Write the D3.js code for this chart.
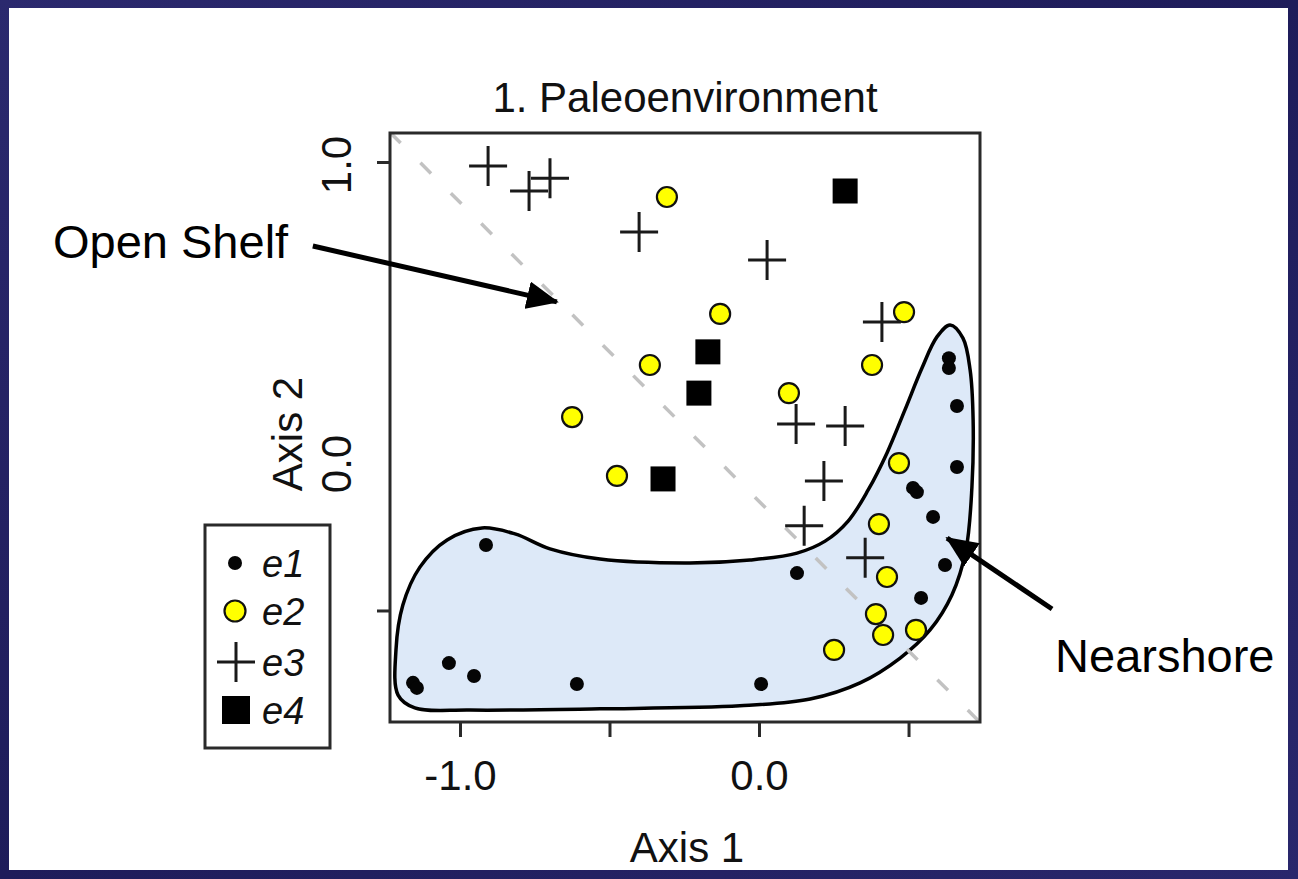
<!DOCTYPE html>
<html>
<head>
<meta charset="utf-8">
<script src="https://cdn.jsdelivr.net/npm/d3@7"></script>
<style>
  body { margin: 0; background: #1f1d5c; }
  svg { display: block; }
  text { font-family: "Liberation Sans", Arial, sans-serif; fill: #111; }
</style>
</head>
<body>
<div class="graph"></div>
<script>
// ordination scores (Axis 1, Axis 2)
let e1Points = [
  [0.635, 0.344], [0.635, 0.311], [0.662, 0.184], [0.662, -0.020],
  [0.515, -0.090], [0.528, -0.104], [0.582, -0.187], [0.622, -0.348],
  [0.542, -0.458], [0.127, -0.375], [0.007, -0.746], [-0.913, -0.281],
  [-1.037, -0.676], [-0.953, -0.719], [-1.157, -0.742], [-1.144, -0.759],
  [-0.609, -0.746]
];
let e2Points = [
  [-0.308, 0.883], [-0.130, 0.492], [0.485, 0.498], [-0.365, 0.321],
  [0.378, 0.321], [0.100, 0.227], [-0.625, 0.147], [-0.475, -0.050],
  [0.468, -0.007], [0.401, -0.211], [0.428, -0.388], [0.391, -0.512],
  [0.415, -0.582], [0.525, -0.565], [0.251, -0.632]
];
let e3Points = [
  [-0.906, 0.987], [-0.769, 0.903], [-0.699, 0.946], [-0.401, 0.766],
  [0.027, 0.672], [0.411, 0.465], [0.124, 0.124], [0.288, 0.117],
  [0.217, -0.067], [0.151, -0.217], [0.355, -0.324]
];
let e4Points = [
  [0.288, 0.903], [-0.171, 0.365], [-0.201, 0.227], [-0.321, -0.060]
];

// outline of the nearshore group
let hullPoints = [
  [0.639, 0.455], [0.682, 0.411], [0.706, 0.304], [0.716, 0.137],
  [0.712, -0.087], [0.692, -0.298], [0.645, -0.448], [0.572, -0.565],
  [0.472, -0.659], [0.338, -0.742], [0.171, -0.796], [-0.064, -0.819],
  [-0.532, -0.829], [-0.967, -0.833], [-1.151, -0.826], [-1.207, -0.783],
  [-1.214, -0.632], [-1.191, -0.482], [-1.134, -0.355], [-1.043, -0.264],
  [-0.926, -0.224], [-0.816, -0.244], [-0.699, -0.294], [-0.532, -0.328],
  [-0.231, -0.341], [-0.030, -0.331], [0.127, -0.308], [0.221, -0.268],
  [0.298, -0.201], [0.365, -0.097], [0.428, 0.027], [0.488, 0.171],
  [0.545, 0.311], [0.595, 0.415]
];

// dividing line: axis2 = lineIntercept + lineSlope * axis1
let lineIntercept = -0.135;
let lineSlope = -1;

let xDomain = [-1.234, 0.739];
let yDomain = [-0.873, 1.097];
let xTickValues = [-1.0, -0.5, 0.0, 0.5];
let xTickLabels = ["-1.0", "", "0.0", ""];
let yTickValues = [-0.5, 1.0];
let yLabelValues = [0.0, 1.0];
let yLabelText = ["0.0", "1.0"];

let legendLabels = ["e1", "e2", "e3", "e4"];

// annotation arrows: label, label anchor, arrow tail, arrow tip (data units)
let notes = [
  { text: "Open Shelf", at: [-2.361, 0.679], from: [-1.492, 0.719], to: [-0.676, 0.532] },
  { text: "Nearshore", at: [0.990, -0.706], from: [0.980, -0.495], to: [0.629, -0.258] }
];

let W = 1298;
let H = 879;

let svg = d3
  .select(".graph")
  .append("svg")
  .attr("width", W)
  .attr("height", H);

let defs = svg.append("defs");
let bg = defs
  .append("linearGradient")
  .attr("id", "bg")
  .attr("x1", 0).attr("y1", 0).attr("x2", 1).attr("y2", 1);
bg.append("stop").attr("offset", "0%").attr("stop-color", "#2b296e");
bg.append("stop").attr("offset", "50%").attr("stop-color", "#1e1c5a");
bg.append("stop").attr("offset", "100%").attr("stop-color", "#29276c");

defs
  .append("clipPath")
  .attr("id", "plotclip")
  .append("rect")
  .attr("x", 390).attr("y", 133)
  .attr("width", 590).attr("height", 589);

defs
  .append("marker")
  .attr("id", "head")
  .attr("markerUnits", "userSpaceOnUse")
  .attr("viewBox", "0 0 32 28")
  .attr("refX", 30)
  .attr("refY", 14)
  .attr("markerWidth", 32)
  .attr("markerHeight", 28)
  .attr("orient", "auto")
  .append("path")
  .attr("d", "M0,0L32,14L0,28Z")
  .style("fill", "#000");

svg.append("rect").attr("width", W).attr("height", H).style("fill", "url(#bg)");
svg
  .append("rect")
  .attr("x", 9).attr("y", 8)
  .attr("width", 1279).attr("height", 862)
  .style("fill", "#fff");

let xScale = d3.scaleLinear().domain(xDomain).range([390, 980]);
let yScale = d3.scaleLinear().domain(yDomain).range([722, 133]);

// nearshore outline
let hullLine = d3
  .line()
  .x(function (d) { return xScale(d[0]); })
  .y(function (d) { return yScale(d[1]); })
  .curve(d3.curveCatmullRomClosed.alpha(0.5));

svg
  .append("path")
  .attr("d", hullLine(hullPoints))
  .style("fill", "#dde9f8")
  .style("stroke", "#000")
  .style("stroke-width", 3.5);

// dashed divider
svg
  .append("line")
  .attr("clip-path", "url(#plotclip)")
  .attr("x1", xScale(xDomain[0]))
  .attr("y1", yScale(lineIntercept + lineSlope * xDomain[0]))
  .attr("x2", xScale(xDomain[1]))
  .attr("y2", yScale(lineIntercept + lineSlope * xDomain[1]))
  .style("stroke", "#c2c2c2")
  .style("stroke-width", 3.5)
  .style("stroke-dasharray", "15,28");

// points
svg
  .selectAll(".e1")
  .data(e1Points)
  .enter()
  .append("circle")
  .attr("class", "e1")
  .attr("cx", function (d) { return xScale(d[0]); })
  .attr("cy", function (d) { return yScale(d[1]); })
  .attr("r", 7)
  .style("fill", "#050505");

svg
  .selectAll(".e2")
  .data(e2Points)
  .enter()
  .append("circle")
  .attr("class", "e2")
  .attr("cx", function (d) { return xScale(d[0]); })
  .attr("cy", function (d) { return yScale(d[1]); })
  .attr("r", 10)
  .style("fill", "#ffff00")
  .style("stroke", "#111")
  .style("stroke-width", 2.2);

let plus = "M-19,0H19M0,-20V20";
svg
  .selectAll(".e3")
  .data(e3Points)
  .enter()
  .append("path")
  .attr("class", "e3")
  .attr("d", plus)
  .attr("transform", function (d) {
    return "translate(" + xScale(d[0]) + "," + yScale(d[1]) + ")";
  })
  .style("fill", "none")
  .style("stroke", "#1a1a1a")
  .style("stroke-width", 3);

svg
  .selectAll(".e4")
  .data(e4Points)
  .enter()
  .append("rect")
  .attr("class", "e4")
  .attr("x", function (d) { return xScale(d[0]) - 12.5; })
  .attr("y", function (d) { return yScale(d[1]) - 12.5; })
  .attr("width", 25)
  .attr("height", 25)
  .style("fill", "#000");

// plot box
svg
  .append("rect")
  .attr("x", 390).attr("y", 133)
  .attr("width", 590).attr("height", 589)
  .style("fill", "none")
  .style("stroke", "#2a2a2a")
  .style("stroke-width", 3);

// axes
let xAxis = d3
  .axisBottom(xScale)
  .tickValues(xTickValues)
  .tickSize(15)
  .tickPadding(23)
  .tickFormat(function (d, i) { return xTickLabels[i]; });

let gx = svg
  .append("g")
  .attr("transform", "translate(0,722)")
  .call(xAxis);
gx.select(".domain").remove();
gx.selectAll("line").style("stroke", "#2a2a2a").style("stroke-width", 3);
gx.selectAll("text")
  .style("font-size", "42px")
  .style("font-family", "Liberation Sans, Arial, sans-serif")
  .style("fill", "#111");

let yAxis = d3
  .axisLeft(yScale)
  .tickValues(yTickValues)
  .tickSize(13)
  .tickFormat("");

let gy = svg
  .append("g")
  .attr("transform", "translate(390,0)")
  .call(yAxis);
gy.select(".domain").remove();
gy.selectAll("line").style("stroke", "#2a2a2a").style("stroke-width", 3);

svg
  .selectAll(".ylab")
  .data(yLabelValues)
  .enter()
  .append("text")
  .attr("class", "ylab")
  .attr("transform", function (d) {
    return "translate(351," + (yScale(d) + 3) + ") rotate(-90)";
  })
  .attr("text-anchor", "middle")
  .style("font-size", "42px")
  .text(function (d, i) { return yLabelText[i]; });

svg
  .append("text")
  .attr("transform", "translate(302,434) rotate(-90)")
  .attr("text-anchor", "middle")
  .style("font-size", "42px")
  .text("Axis 2");

svg
  .append("text")
  .attr("x", 687)
  .attr("y", 862)
  .attr("text-anchor", "middle")
  .style("font-size", "42px")
  .text("Axis 1");

svg
  .append("text")
  .attr("x", 685)
  .attr("y", 112)
  .attr("text-anchor", "middle")
  .style("font-size", "42px")
  .text("1. Paleoenvironment");

// legend
let legend = svg.append("g");
legend
  .append("rect")
  .attr("x", 205).attr("y", 525)
  .attr("width", 125).attr("height", 223)
  .style("fill", "#fff")
  .style("stroke", "#2a2a2a")
  .style("stroke-width", 3);

let rowY = [563, 611, 662, 710];
legend.append("circle").attr("cx", 235).attr("cy", rowY[0]).attr("r", 7).style("fill", "#050505");
legend
  .append("circle")
  .attr("cx", 235).attr("cy", rowY[1]).attr("r", 10.5)
  .style("fill", "#ffff00").style("stroke", "#111").style("stroke-width", 2.2);
legend
  .append("path")
  .attr("d", plus)
  .attr("transform", "translate(236," + rowY[2] + ")")
  .style("fill", "none").style("stroke", "#1a1a1a").style("stroke-width", 3);
legend
  .append("rect")
  .attr("x", 222).attr("y", rowY[3] - 14)
  .attr("width", 28).attr("height", 28)
  .style("fill", "#000");

legend
  .selectAll(".legtext")
  .data(legendLabels)
  .enter()
  .append("text")
  .attr("class", "legtext")
  .attr("x", 262)
  .attr("y", function (d, i) { return rowY[i] + 14; })
  .style("font-size", "38px")
  .style("font-style", "italic")
  .text(function (d) { return d; });

// annotations
let ann = svg
  .selectAll(".note")
  .data(notes)
  .enter()
  .append("g")
  .attr("class", "note");

ann
  .append("line")
  .attr("x1", function (d) { return xScale(d.from[0]); })
  .attr("y1", function (d) { return yScale(d.from[1]); })
  .attr("x2", function (d) { return xScale(d.to[0]); })
  .attr("y2", function (d) { return yScale(d.to[1]); })
  .attr("marker-end", "url(#head)")
  .style("stroke", "#000")
  .style("stroke-width", 5);

ann
  .append("text")
  .attr("x", function (d) { return xScale(d.at[0]); })
  .attr("y", function (d) { return yScale(d.at[1]); })
  .style("font-size", "47px")
  .style("fill", "#000")
  .text(function (d) { return d.text; });
</script>
</body>
</html>
